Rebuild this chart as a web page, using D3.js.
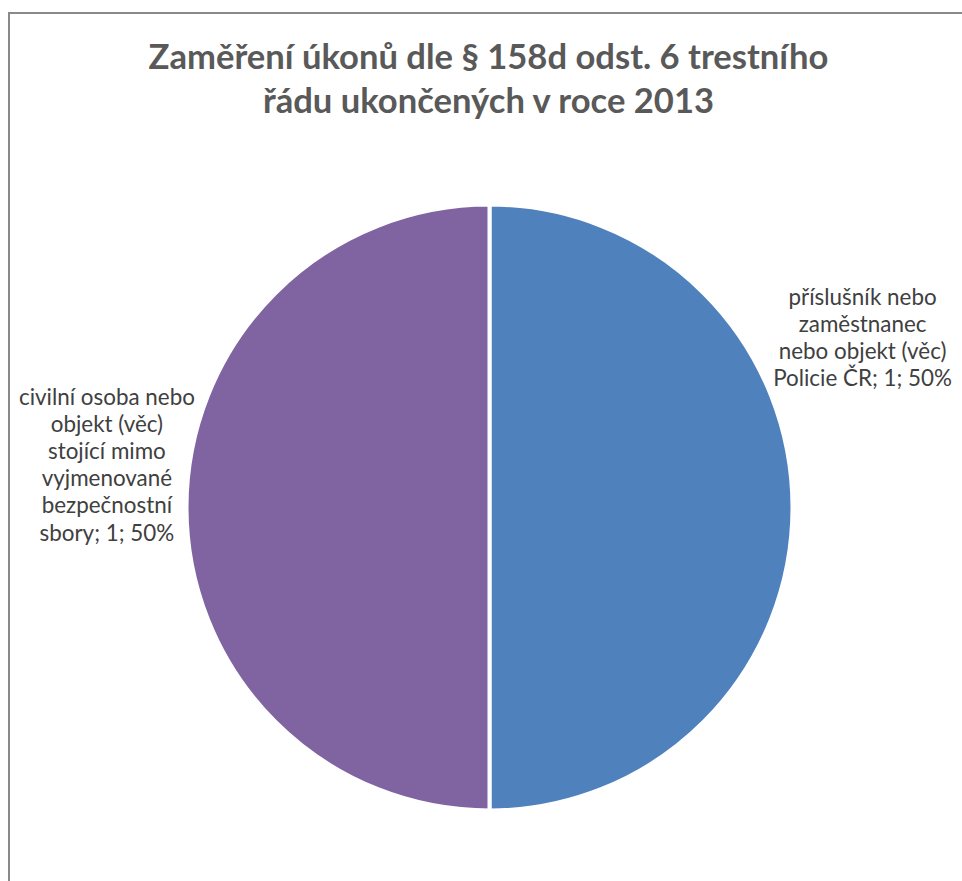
<!DOCTYPE html>
<html>
<head>
<meta charset="utf-8">
<title>Zaměření úkonů</title>
<script src="https://cdn.jsdelivr.net/npm/d3@7"></script>
<style>
  body { margin: 0; background: #fff; }
  svg { display: block; font-family: Lato, "Open Sans", sans-serif; }
</style>
</head>
<body>
<svg width="962" height="881"></svg>
<script>
// chart data
var categories = [
  "příslušník nebo zaměstnanec nebo objekt (věc) Policie ČR",
  "civilní osoba nebo objekt (věc) stojící mimo vyjmenované bezpečnostní sbory"
];
var values = [1, 1];
var colors = ["#4F81BD", "#8064A2"];
var titleLines = ["Zaměření úkonů dle § 158d odst. 6 trestního", "řádu ukončených v roce 2013"];

// label lines as Excel wrapped them
var labelLines = [
  ["příslušník nebo", "zaměstnanec", "nebo objekt (věc)", "Policie ČR; 1; 50%"],
  ["civilní osoba nebo", "objekt (věc)", "stojící mimo", "vyjmenované", "bezpečnostní", "sbory; 1; 50%"]
];
// where each label sits: angle (deg, clockwise from top) and distance from centre
var labelPlace = [{a: 65.5, d: 410}, {a: 276.4, d: 385}];

var svg = d3.select("svg");
var cx = 489.5, cy = 507.5, r = 301;

// chart area border (runs off the right/bottom edge)
svg.append("rect")
  .attr("x", 9).attr("y", 13)
  .attr("width", 1000).attr("height", 1000)
  .attr("fill", "none")
  .attr("stroke", "#898989")
  .attr("stroke-width", 2);

// title
svg.append("g").selectAll("text")
  .data(titleLines)
  .enter().append("text")
  .attr("x", 488.5)
  .attr("y", function(d, i) { return 69 + i * 44; })
  .attr("text-anchor", "middle")
  .attr("fill", "#595959")
  .attr("font-weight", "bold")
  .attr("font-size", 34.6)
  .text(function(d) { return d; });

var pie = d3.pie().sort(null).value(function(d) { return d; });
// white slice border eats 2px of the fill, so push the path out by that
var arc = d3.arc().innerRadius(0).outerRadius(r + 2);

var g = svg.append("g").attr("transform", "translate(" + cx + "," + cy + ")");

g.selectAll("path")
  .data(pie(values))
  .enter().append("path")
  .attr("d", arc)
  .attr("fill", function(d, i) { return colors[i]; })
  .attr("stroke", "#fff")
  .attr("stroke-width", 4);

// data labels
var labels = g.selectAll("text.lbl")
  .data(pie(values))
  .enter().append("text")
  .attr("class", "lbl")
  .attr("text-anchor", "middle")
  .attr("fill", "#404040")
  .attr("font-size", 22.4)
  .attr("transform", function(d, i) {
    var p = labelPlace[i], a = p.a * Math.PI / 180;
    var n = labelLines[i].length;
    var x = Math.sin(a) * p.d, y = -Math.cos(a) * p.d - (n - 1) * 27.2 / 2 + 8;
    return "translate(" + x + "," + y + ")";
  });

labels.selectAll("tspan")
  .data(function(d, i) { return labelLines[i]; })
  .enter().append("tspan")
  .attr("x", 0)
  .attr("dy", function(d, j) { return j === 0 ? 0 : 27.2; })
  .text(function(d) { return d; });
</script>
</body>
</html>
